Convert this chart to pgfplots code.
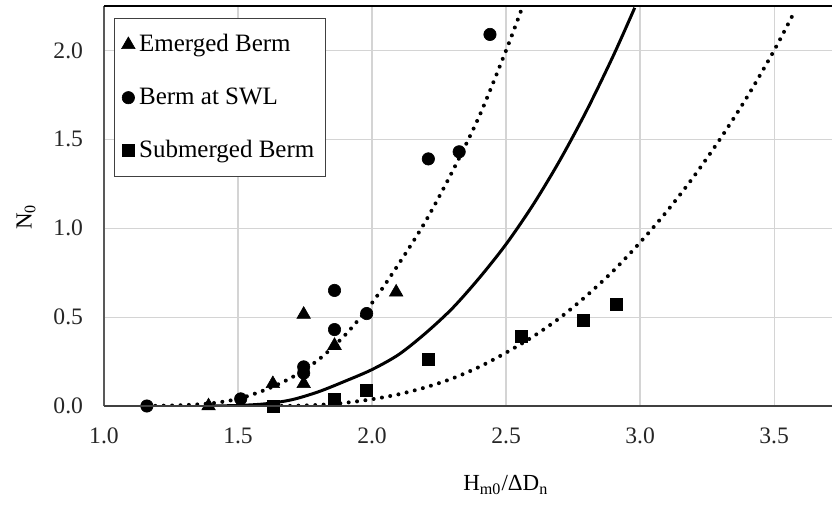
\documentclass[border=0pt]{standalone}
\usepackage{fontspec}
\setmainfont{Liberation Serif}
\usepackage{pgfplots}
\pgfplotsset{compat=1.18}
\begin{document}
\begin{tikzpicture}
\begin{axis}[
  scale only axis,
  width=364bp, height=200bp,
  xmin=1, xmax=3.716, ymin=0, ymax=2.25,
  xtick={1,1.5,2,2.5,3,3.5},
  ytick={0,0.5,1,1.5,2},
  grid=major,
  major grid style={draw=black!17, line width=0.6bp},
  major tick length=0pt,
  axis line style={draw=none},
  /pgf/number format/.cd, fixed, fixed zerofill, precision=1, assume math mode=true, /pgfplots/.cd,
  tick label style={font=\fontsize{11.8bp}{14bp}\selectfont, text=black!85},
  xticklabel style={yshift=-7.5bp},
  yticklabel style={xshift=-7bp},
  xlabel={H\textsubscript{m0}/ΔD\textsubscript{n}},
  ylabel={N\textsubscript{0}},
  label style={font=\fontsize{11.5bp}{13bp}\selectfont},
  xlabel style={at={(axis description cs:0.552,-0.1975)}, anchor=center},
  ylabel style={at={(axis description cs:-0.1071,0.4725)}, anchor=center},
  legend style={at={(axis description cs:0,1)}, anchor=north west, xshift=5bp, yshift=-6bp,
    draw=black!75, line width=0.6bp, inner xsep=3.5bp, inner ysep=6bp, row sep=12.5bp,
    font=\fontsize{12.5bp}{14bp}\selectfont, nodes={inner sep=2bp}},
  legend cell align=left,
  legend image code/.code={\draw[mark repeat=2,mark phase=2] plot coordinates {(0bp,0bp)(4bp,0bp)(8bp,0bp)};},
]
% fitted curves
\addplot[forget plot, black, line width=2bp, dash pattern=on 0pt off 4.2bp, line cap=round, smooth] coordinates {
(1.16,0) (1.30,0.005) (1.40,0.015) (1.50,0.04) (1.60,0.09) (1.70,0.16) (1.80,0.26) (1.90,0.40)
(2.00,0.58) (2.10,0.80) (2.20,1.04) (2.30,1.32) (2.40,1.63) (2.50,2.00) (2.56,2.24)};
\addplot[forget plot, black, line width=1.5bp, smooth] coordinates {
(1.40,0) (1.50,0.003) (1.60,0.012) (1.70,0.035) (1.80,0.08) (1.90,0.14) (2.00,0.205) (2.10,0.29)
(2.20,0.41) (2.30,0.55) (2.40,0.72) (2.50,0.91) (2.60,1.13) (2.70,1.38) (2.80,1.66) (2.90,1.97) (2.98,2.24)};
\addplot[forget plot, black, line width=2bp, dash pattern=on 0pt off 4.2bp, line cap=round, smooth] coordinates {
(1.60,0) (1.70,0.001) (1.80,0.006) (1.90,0.018) (2.00,0.038) (2.10,0.066) (2.20,0.105) (2.30,0.155)
(2.40,0.22) (2.50,0.30) (2.60,0.39) (2.70,0.495) (2.80,0.62) (2.90,0.76) (3.00,0.92) (3.10,1.095)
(3.20,1.29) (3.30,1.505) (3.40,1.74) (3.50,2.00) (3.58,2.23)};
% data
\addplot[only marks, mark=triangle*, mark size=3.9bp, draw=black, fill=black, line width=0.3bp] coordinates {
(1.39,0.0) (1.63,0.125) (1.745,0.515) (1.745,0.125) (1.86,0.34) (2.09,0.64)};
\addlegendentry{Emerged Berm}
\addplot[only marks, mark=*, mark size=3.1bp, draw=black, fill=black, line width=0.3bp] coordinates {
(1.16,0.0) (1.51,0.04) (1.745,0.22) (1.745,0.185) (1.86,0.43) (1.86,0.65) (1.98,0.52)
(2.21,1.39) (2.325,1.43) (2.44,2.09)};
\addlegendentry{Berm at SWL}
\addplot[only marks, mark=square*, mark size=3bp, draw=black, fill=black, line width=0.3bp] coordinates {
(1.63,0.0) (1.86,0.04) (1.98,0.09) (2.21,0.26) (2.556,0.39) (2.79,0.48) (2.91,0.57)};
\addlegendentry{Submerged Berm}
\coordinate (bl) at (rel axis cs:0,0);
\coordinate (tr) at (rel axis cs:1,1);
\end{axis}
\draw[black!65, line width=0.7bp] (bl) -- (bl|-tr);
\draw[black!75, line width=0.9bp] (bl) -- (tr|-bl);
\draw[black, line width=1.3bp] (bl|-tr) -- (tr);
\pgfresetboundingbox
\path[use as bounding box] ([xshift=-52bp,yshift=-50bp]bl) rectangle ([xshift=0.5bp,yshift=3bp]tr);
\end{tikzpicture}
\end{document}
